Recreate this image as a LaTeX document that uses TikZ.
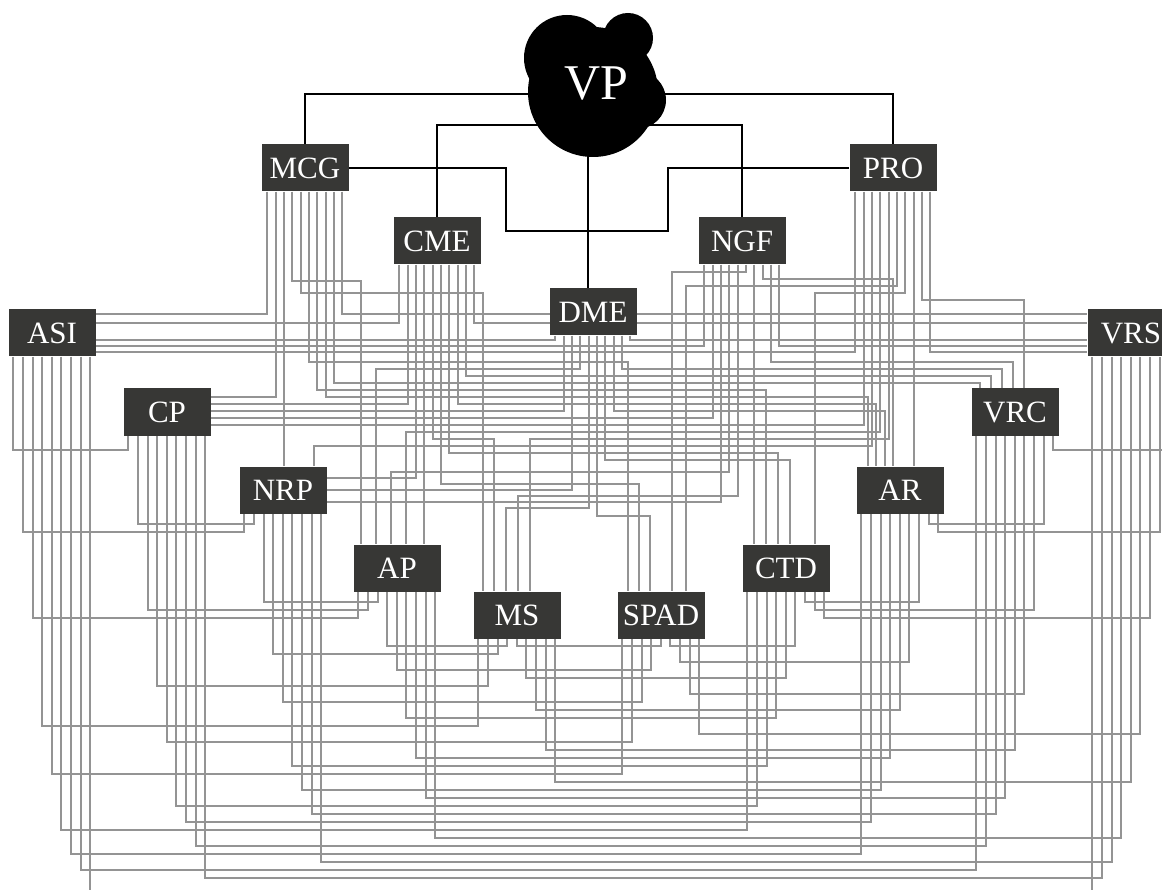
\documentclass[tikz,border=0pt]{standalone}
\usepackage{fontspec}
\setmainfont{Liberation Serif}
\usetikzlibrary{calc}
\pgfdeclarelayer{bg}
\pgfsetlayers{bg,main}
\definecolor{boxc}{RGB}{55,55,53}
\definecolor{wirec}{RGB}{148,148,148}
\tikzset{
  box/.style={fill=boxc, text=white, minimum width=87pt, minimum height=47pt, inner sep=0pt, font=\fontsize{31}{31}\selectfont},
  wire/.style={draw=wirec, line width=2pt},
  vpline/.style={draw=black, line width=2.2pt},
}
% top node slot -> side of lower node
\newcommand\TSide[4]{\draw[wire] ($(#1.south west)+({6+8.33*#2},0)$) |- (#4 |- 0,#3);}
% top node slot -> level -> top of lower node
\newcommand\TTop[5]{\draw[wire] ($(#1.south west)+({6+8.33*#2},0)$) coordinate (w) -- (w |- 0,#3) -| (#4.north -| #5,0);}
% top node slot straight down
\newcommand\TStr[3]{\draw[wire] ($(#1.south west)+({6+8.33*#2},0)$) coordinate (w) -- (#3.north -| w);}
% lower node bottom -> level -> lower node bottom
\newcommand\UW[5]{\draw[wire] ($(#1.south west)+({5+9.6*#2},0)$) coordinate (w) -- (w |- 0,#5) -| ($(#3.south west)+({5+9.6*#4},0)$);}
\begin{document}
\begin{tikzpicture}[x=1pt,y=-1pt]
\useasboundingbox (0,0) rectangle (1162,890);
% nodes
\node[box] (MCG) at (305,168) {MCG};
\node[box] (PRO) at (893,168) {PRO};
\node[box] (CME) at (437,241) {CME};
\node[box] (NGF) at (742,241) {NGF};
\node[box] (DME) at (593,312) {DME};
\node[box] (ASI) at (52,333) {ASI};
\node[box] (VRS) at (1131,333) {VRS};
\node[box] (CP) at (167,412) {CP};
\node[box] (VRC) at (1015,412) {VRC};
\node[box] (NRP) at (283,490) {NRP};
\node[box] (AR) at (900,490) {AR};
\node[box] (AP) at (397,568) {AP};
\node[box] (CTD) at (786,568) {CTD};
\node[box] (MS) at (517,615) {MS};
\node[box] (SPAD) at (661,615) {SPAD};
% VP cloud
\fill[black] (593,92) circle (65pt);
\fill[black] (567,58) circle (43pt);
\fill[black] (628,38) circle (25pt);
\fill[black] (637,100) circle (29pt);
\fill[black] (588,124) circle (32pt);
\node[text=white, inner sep=0pt, font=\fontsize{50}{50}\selectfont] (VP) at (596,84) {VP};

\begin{pgfonlayer}{bg}
\fill[white] (0,0) rectangle (1162,890);
% black hierarchy
\draw[vpline] (MCG.north) |- ($(VP)+(0,10)$) -| (PRO.north);
\draw[vpline] (CME.north) |- ($(VP)+(0,41)$) -| (NGF.north);
\draw[vpline] (VP.center -| 588,0) -- (DME.north -| 588,0);
\draw[vpline] (MCG.east) -| (506,231) -| (668,168) -- (PRO.west);
% top nodes -> ASI / VRS / CP / NRP
\TSide{MCG}{0}{314}{ASI.east}
\TSide{CME}{0}{323}{ASI.east}
\TSide{DME}{0}{340}{ASI.east}
\TSide{NGF}{0}{346}{ASI.east}
\TSide{PRO}{0}{352}{ASI.east}
\TSide{MCG}{9}{314}{VRS.west}
\TSide{CME}{9}{323}{VRS.west}
\TSide{DME}{9}{340}{VRS.west}
\TSide{NGF}{9}{346}{VRS.west}
\TSide{PRO}{9}{352}{VRS.west}
\TSide{MCG}{1}{397}{CP.east}
\TSide{CME}{1}{404}{CP.east}
\TSide{DME}{1}{411}{CP.east}
\TSide{NGF}{1}{418}{CP.east}
\TSide{PRO}{1}{425}{CP.east}
\TStr{MCG}{2}{NRP}
\TSide{CME}{2}{478}{NRP.east}
\TSide{DME}{2}{490}{NRP.east}
\TSide{NGF}{2}{502}{NRP.east}
\TTop{PRO}{2}{446}{NRP}{314}
% AP
\TTop{MCG}{3}{281}{AP}{361}
\TStr{CME}{3}{AP}
\TTop{DME}{3}{369}{AP}{376}
\TTop{NGF}{3}{472}{AP}{391}
\TTop{PRO}{3}{432}{AP}{406}
% MS
\TTop{MCG}{4}{293}{MS}{483}
\TTop{CME}{4}{439}{MS}{494}
\TTop{DME}{4}{508}{MS}{506}
\TTop{NGF}{4}{496}{MS}{518}
\TTop{PRO}{4}{439}{MS}{530}
% SPAD
\TTop{MCG}{5}{362}{SPAD}{628}
\TTop{CME}{5}{484}{SPAD}{639}
\TTop{DME}{5}{516}{SPAD}{650}
\TTop{NGF}{5}{272}{SPAD}{672}
\TTop{PRO}{5}{286}{SPAD}{686}
% CTD
\TTop{MCG}{6}{390}{CTD}{766}
\TTop{CME}{6}{453}{CTD}{778}
\TTop{DME}{6}{460}{CTD}{790}
\TStr{NGF}{6}{CTD}
\TTop{PRO}{6}{293}{CTD}{815}
% AR
\TTop{MCG}{7}{397}{AR}{868}
\TTop{CME}{7}{404}{AR}{876}
\TTop{DME}{7}{411}{AR}{885}
\TTop{NGF}{7}{279}{AR}{893}
\TStr{PRO}{7}{AR}
% VRC
\TTop{MCG}{8}{383}{VRC}{980}
\TTop{CME}{8}{376}{VRC}{991}
\TTop{DME}{8}{369}{VRC}{1002}
\TTop{NGF}{8}{362}{VRC}{1013}
\TTop{PRO}{8}{300}{VRC}{1024}
% lower-lower, left group
\UW{ASI}{0}{CP}{0}{450}
\UW{ASI}{1}{NRP}{0}{532}
\UW{CP}{1}{NRP}{1}{524}
\UW{ASI}{2}{AP}{0}{618}
\UW{CP}{2}{AP}{1}{610}
\UW{NRP}{2}{AP}{2}{602}
% right group
\UW{VRC}{8}{VRS}{8}{450}
\UW{AR}{7}{VRC}{7}{524}
\UW{AR}{8}{VRS}{7}{532}
\UW{CTD}{6}{AR}{6}{602}
\UW{CTD}{7}{VRC}{6}{610}
\UW{CTD}{8}{VRS}{6}{618}
% spanning
\UW{AP}{3}{MS}{3}{646}
\UW{MS}{4}{SPAD}{4}{646}
\UW{SPAD}{5}{CTD}{5}{646}
\UW{NRP}{3}{MS}{2}{654}
\UW{SPAD}{6}{AR}{5}{662}
\UW{AP}{4}{SPAD}{3}{670}
\UW{MS}{5}{CTD}{4}{678}
\UW{CP}{3}{MS}{1}{686}
\UW{SPAD}{7}{VRC}{5}{694}
\UW{NRP}{4}{SPAD}{2}{702}
\UW{MS}{6}{AR}{4}{710}
\UW{AP}{5}{CTD}{3}{718}
\UW{ASI}{3}{MS}{0}{726}
\UW{SPAD}{8}{VRS}{5}{734}
\UW{CP}{4}{SPAD}{1}{742}
\UW{MS}{7}{VRC}{4}{750}
\UW{AP}{6}{AR}{3}{758}
\UW{NRP}{5}{CTD}{2}{766}
\UW{ASI}{4}{SPAD}{0}{774}
\UW{MS}{8}{VRS}{4}{782}
\UW{NRP}{6}{AR}{2}{790}
\UW{AP}{7}{VRC}{3}{798}
\UW{CP}{5}{CTD}{1}{806}
\UW{NRP}{7}{VRC}{2}{814}
\UW{CP}{6}{AR}{1}{822}
\UW{ASI}{5}{CTD}{0}{830}
\UW{AP}{8}{VRS}{3}{838}
\UW{CP}{7}{VRC}{1}{846}
\UW{ASI}{6}{AR}{0}{854}
\UW{NRP}{8}{VRS}{2}{862}
\UW{ASI}{7}{VRC}{0}{870}
\UW{CP}{8}{VRS}{1}{878}
\UW{ASI}{8}{VRS}{0}{900}
\end{pgfonlayer}
\end{tikzpicture}
\end{document}
